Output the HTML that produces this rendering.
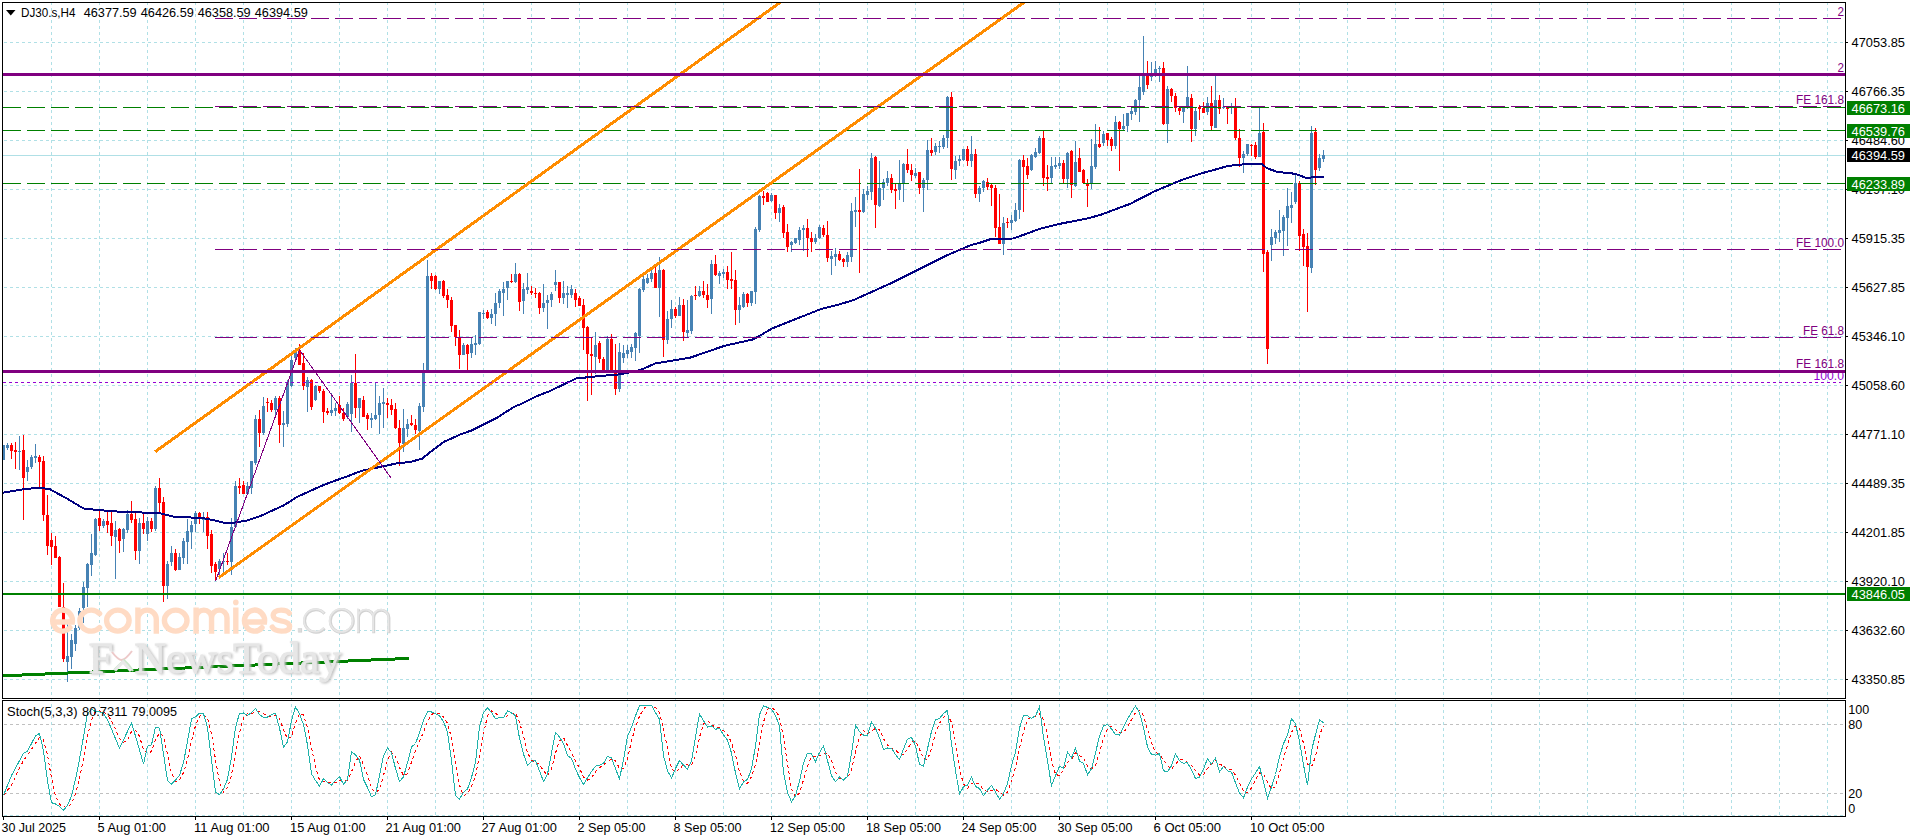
<!DOCTYPE html>
<html><head><meta charset="utf-8"><title>DJ30.s,H4</title>
<style>
html,body{margin:0;padding:0;background:#fff;}
body{width:1916px;height:840px;overflow:hidden;position:relative;font-family:"Liberation Sans",sans-serif;}
svg{position:absolute;left:0;top:0;display:block}
svg text{font-family:"Liberation Sans",sans-serif;font-size:13px;fill:#000;}
.wm{position:absolute;white-space:nowrap;line-height:1;}
</style></head><body>
<svg width="1916" height="840" viewBox="0 0 1916 840">
<rect x="0" y="0" width="1916" height="840" fill="#fff"/>
<g shape-rendering="crispEdges" fill="none">
<path d="M51.5 2V816M99.5 2V816M147.5 2V816M195.5 2V816M243.5 2V816M291.5 2V816M339.5 2V816M387.5 2V816M435.5 2V816M483.5 2V816M531.5 2V816M579.5 2V816M627.5 2V816M675.5 2V816M723.5 2V816M771.5 2V816M819.5 2V816M867.5 2V816M915.5 2V816M963.5 2V816M1011.5 2V816M1059.5 2V816M1107.5 2V816M1155.5 2V816M1203.5 2V816M1251.5 2V816M1299.5 2V816M1347.5 2V816M1395.5 2V816M1443.5 2V816M1491.5 2V816M1539.5 2V816M1587.5 2V816M1635.5 2V816M1683.5 2V816M1731.5 2V816M1779.5 2V816M1827.5 2V816" stroke="#B0E0E6" stroke-width="1" stroke-dasharray="3 3"/>
<path d="M4 42.5H1845M4 91.5H1845M4 140.5H1845M4 189.5H1845M4 238.5H1845M4 287.5H1845M4 336.5H1845M4 385.5H1845M4 434.5H1845M4 483.5H1845M4 532.5H1845M4 581.5H1845M4 630.5H1845M4 679.5H1845M4 815.5H1845" stroke="#B0E0E6" stroke-width="1" stroke-dasharray="3 3"/>
<path d="M4 724.5H1845M4 793.5H1845" stroke="#C0C0C0" stroke-width="1" stroke-dasharray="3 3"/>
</g>
<rect x="3" y="155" width="1842" height="1" fill="#B0E0E6" shape-rendering="crispEdges"/>
<g shape-rendering="crispEdges">
<path d="M3 445h1V460h-1zM2 445h3V460h-3zM7 443h1V450h-1zM6 445h3V448h-3zM19 436h1V470h-1zM18 451h3V452h-3zM27 460h1V481h-1zM26 467h3V472h-3zM31 455h1V469h-1zM30 457h3V467h-3zM35 444h1V463h-1zM34 456h3V458h-3zM67 620h1V682h-1zM66 656h3V662h-3zM71 634h1V669h-1zM70 640h3V657h-3zM75 625h1V651h-1zM74 628h3V644h-3zM79 608h1V630h-1zM78 611h3V628h-3zM83 582h1V623h-1zM82 587h3V608h-3zM87 563h1V607h-1zM86 564h3V588h-3zM91 534h1V576h-1zM90 553h3V565h-3zM95 518h1V556h-1zM94 519h3V555h-3zM103 519h1V528h-1zM102 521h3V526h-3zM115 521h1V579h-1zM114 530h3V537h-3zM123 528h1V552h-1zM122 529h3V539h-3zM127 510h1V533h-1zM126 514h3V530h-3zM139 518h1V564h-1zM138 523h3V551h-3zM147 517h1V541h-1zM146 521h3V534h-3zM155 486h1V531h-1zM154 488h3V529h-3zM167 561h1V599h-1zM166 564h3V586h-3zM171 546h1V566h-1zM170 553h3V562h-3zM179 553h1V570h-1zM178 557h3V570h-3zM183 538h1V564h-1zM182 541h3V558h-3zM187 519h1V564h-1zM186 531h3V542h-3zM191 521h1V549h-1zM190 525h3V532h-3zM195 511h1V532h-1zM194 513h3V524h-3zM203 512h1V532h-1zM202 519h3V520h-3zM219 559h1V576h-1zM218 561h3V569h-3zM223 553h1V572h-1zM222 561h3V562h-3zM231 518h1V575h-1zM230 527h3V562h-3zM235 481h1V528h-1zM234 486h3V527h-3zM247 482h1V494h-1zM246 486h3V494h-3zM251 461h1V494h-1zM250 461h3V488h-3zM255 415h1V465h-1zM254 419h3V463h-3zM263 397h1V435h-1zM262 406h3V433h-3zM275 396h1V415h-1zM274 398h3V410h-3zM283 411h1V447h-1zM282 423h3V425h-3zM287 380h1V427h-1zM286 382h3V424h-3zM291 355h1V387h-1zM290 360h3V386h-3zM295 348h1V361h-1zM294 352h3V358h-3zM307 377h1V412h-1zM306 380h3V387h-3zM315 385h1V401h-1zM314 386h3V400h-3zM331 393h1V416h-1zM330 410h3V413h-3zM335 403h1V416h-1zM334 408h3V411h-3zM347 402h1V419h-1zM346 404h3V417h-3zM351 375h1V432h-1zM350 383h3V414h-3zM359 398h1V423h-1zM358 398h3V408h-3zM371 413h1V428h-1zM370 418h3V420h-3zM375 383h1V420h-1zM374 415h3V419h-3zM379 396h1V434h-1zM378 403h3V415h-3zM383 388h1V428h-1zM382 402h3V404h-3zM403 409h1V452h-1zM402 428h3V444h-3zM407 419h1V437h-1zM406 424h3V429h-3zM419 403h1V450h-1zM418 406h3V431h-3zM423 363h1V412h-1zM422 373h3V407h-3zM427 260h1V370h-1zM426 276h3V370h-3zM439 281h1V294h-1zM438 281h3V289h-3zM463 343h1V355h-1zM462 345h3V355h-3zM471 338h1V358h-1zM470 344h3V353h-3zM475 335h1V355h-1zM474 343h3V345h-3zM479 312h1V345h-1zM478 312h3V344h-3zM483 310h1V319h-1zM482 313h3V314h-3zM491 309h1V324h-1zM490 314h3V318h-3zM495 293h1V326h-1zM494 303h3V314h-3zM499 289h1V308h-1zM498 291h3V303h-3zM503 282h1V316h-1zM502 289h3V293h-3zM507 281h1V300h-1zM506 281h3V288h-3zM515 263h1V283h-1zM514 274h3V282h-3zM523 283h1V314h-1zM522 289h3V301h-3zM527 273h1V294h-1zM526 287h3V290h-3zM543 284h1V312h-1zM542 303h3V308h-3zM547 295h1V329h-1zM546 300h3V303h-3zM551 292h1V307h-1zM550 294h3V300h-3zM555 270h1V291h-1zM554 282h3V285h-3zM563 281h1V304h-1zM562 293h3V298h-3zM567 286h1V308h-1zM566 293h3V295h-3zM571 285h1V298h-1zM570 289h3V295h-3zM595 332h1V374h-1zM594 345h3V357h-3zM607 336h1V371h-1zM606 339h3V371h-3zM619 343h1V392h-1zM618 352h3V389h-3zM623 345h1V363h-1zM622 353h3V358h-3zM627 345h1V358h-1zM626 350h3V354h-3zM631 344h1V358h-1zM630 347h3V352h-3zM635 332h1V361h-1zM634 333h3V348h-3zM639 288h1V353h-1zM638 289h3V336h-3zM643 275h1V292h-1zM642 279h3V290h-3zM647 274h1V284h-1zM646 278h3V283h-3zM651 268h1V282h-1zM650 273h3V279h-3zM659 257h1V317h-1zM658 270h3V288h-3zM667 311h1V344h-1zM666 319h3V340h-3zM671 300h1V328h-1zM670 309h3V319h-3zM679 297h1V316h-1zM678 305h3V316h-3zM687 300h1V338h-1zM686 330h3V333h-3zM691 295h1V334h-1zM690 296h3V331h-3zM699 286h1V297h-1zM698 291h3V296h-3zM711 260h1V314h-1zM710 264h3V299h-3zM719 271h1V284h-1zM718 273h3V276h-3zM723 269h1V278h-1zM722 272h3V274h-3zM739 297h1V323h-1zM738 305h3V310h-3zM743 292h1V308h-1zM742 294h3V307h-3zM751 291h1V306h-1zM750 291h3V303h-3zM755 227h1V304h-1zM754 229h3V292h-3zM759 195h1V232h-1zM758 196h3V230h-3zM771 193h1V202h-1zM770 195h3V201h-3zM779 204h1V222h-1zM778 208h3V213h-3zM791 241h1V252h-1zM790 242h3V245h-3zM795 238h1V244h-1zM794 238h3V243h-3zM799 227h1V245h-1zM798 230h3V240h-3zM803 225h1V251h-1zM802 228h3V230h-3zM815 234h1V244h-1zM814 238h3V242h-3zM819 225h1V239h-1zM818 227h3V238h-3zM831 251h1V275h-1zM830 256h3V259h-3zM835 248h1V266h-1zM834 254h3V257h-3zM847 252h1V267h-1zM846 255h3V262h-3zM851 203h1V262h-1zM850 211h3V257h-3zM855 197h1V227h-1zM854 210h3V212h-3zM863 189h1V213h-1zM862 194h3V212h-3zM867 186h1V200h-1zM866 191h3V195h-3zM871 153h1V200h-1zM870 158h3V192h-3zM879 161h1V207h-1zM878 188h3V206h-3zM883 179h1V200h-1zM882 182h3V188h-3zM887 171h1V186h-1zM886 178h3V183h-3zM899 160h1V200h-1zM898 183h3V190h-3zM903 163h1V202h-1zM902 164h3V184h-3zM915 168h1V178h-1zM914 173h3V176h-3zM923 178h1V212h-1zM922 180h3V188h-3zM927 140h1V190h-1zM926 150h3V180h-3zM935 143h1V155h-1zM934 146h3V152h-3zM939 141h1V153h-1zM938 146h3V147h-3zM943 135h1V149h-1zM942 138h3V147h-3zM947 96h1V148h-1zM946 97h3V138h-3zM955 156h1V179h-1zM954 161h3V170h-3zM959 155h1V166h-1zM958 159h3V161h-3zM963 149h1V161h-1zM962 149h3V160h-3zM971 136h1V167h-1zM970 154h3V161h-3zM979 186h1V202h-1zM978 188h3V194h-3zM983 180h1V192h-1zM982 181h3V188h-3zM1003 217h1V255h-1zM1002 223h3V244h-3zM1011 215h1V230h-1zM1010 220h3V223h-3zM1015 203h1V222h-1zM1014 210h3V221h-3zM1019 159h1V219h-1zM1018 160h3V210h-3zM1031 154h1V171h-1zM1030 155h3V170h-3zM1035 148h1V158h-1zM1034 152h3V157h-3zM1039 136h1V154h-1zM1038 138h3V153h-3zM1051 157h1V183h-1zM1050 166h3V178h-3zM1055 157h1V169h-1zM1054 165h3V167h-3zM1059 157h1V169h-1zM1058 163h3V166h-3zM1067 152h1V188h-1zM1066 153h3V179h-3zM1075 141h1V187h-1zM1074 162h3V186h-3zM1091 139h1V189h-1zM1090 166h3V184h-3zM1095 124h1V169h-1zM1094 144h3V167h-3zM1103 131h1V146h-1zM1102 134h3V143h-3zM1115 116h1V149h-1zM1114 122h3V146h-3zM1123 114h1V130h-1zM1122 126h3V129h-3zM1127 113h1V132h-1zM1126 113h3V126h-3zM1131 108h1V120h-1zM1130 111h3V114h-3zM1135 99h1V115h-1zM1134 100h3V112h-3zM1139 74h1V122h-1zM1138 87h3V100h-3zM1143 36h1V95h-1zM1142 74h3V92h-3zM1151 62h1V81h-1zM1150 74h3V77h-3zM1155 61h1V77h-1zM1154 69h3V73h-3zM1159 66h1V82h-1zM1158 68h3V69h-3zM1167 86h1V143h-1zM1166 89h3V124h-3zM1183 107h1V123h-1zM1182 107h3V112h-3zM1187 66h1V109h-1zM1186 97h3V108h-3zM1195 108h1V136h-1zM1194 111h3V129h-3zM1207 97h1V115h-1zM1206 103h3V112h-3zM1215 76h1V128h-1zM1214 100h3V128h-3zM1223 98h1V109h-1zM1222 107h3V108h-3zM1231 103h1V114h-1zM1230 107h3V108h-3zM1243 151h1V173h-1zM1242 154h3V158h-3zM1247 144h1V156h-1zM1246 144h3V154h-3zM1259 108h1V157h-1zM1258 133h3V157h-3zM1271 229h1V261h-1zM1270 237h3V245h-3zM1275 230h1V244h-1zM1274 232h3V238h-3zM1279 210h1V242h-1zM1278 230h3V233h-3zM1283 215h1V256h-1zM1282 217h3V231h-3zM1287 188h1V246h-1zM1286 206h3V218h-3zM1291 192h1V223h-1zM1290 205h3V208h-3zM1295 175h1V204h-1zM1294 183h3V202h-3zM1311 126h1V273h-1zM1310 133h3V268h-3zM1319 154h1V171h-1zM1318 158h3V168h-3zM1323 150h1V162h-1zM1322 155h3V159h-3z" fill="#4682B4"/>
<path d="M11 443h1V459h-1zM10 445h3V451h-3zM15 442h1V469h-1zM14 450h3V452h-3zM23 435h1V520h-1zM22 450h3V478h-3zM39 455h1V489h-1zM38 457h3V462h-3zM43 456h1V521h-1zM42 461h3V515h-3zM47 495h1V555h-1zM46 515h3V546h-3zM51 533h1V565h-1zM50 540h3V547h-3zM55 536h1V558h-1zM54 546h3V558h-3zM59 556h1V607h-1zM58 557h3V607h-3zM63 583h1V662h-1zM62 607h3V659h-3zM99 510h1V531h-1zM98 518h3V526h-3zM107 512h1V533h-1zM106 521h3V525h-3zM111 512h1V546h-1zM110 523h3V536h-3zM119 528h1V553h-1zM118 529h3V541h-3zM131 501h1V523h-1zM130 514h3V520h-3zM135 512h1V560h-1zM134 519h3V551h-3zM143 514h1V534h-1zM142 523h3V529h-3zM151 518h1V532h-1zM150 521h3V529h-3zM159 478h1V512h-1zM158 488h3V503h-3zM163 497h1V602h-1zM162 502h3V586h-3zM175 549h1V571h-1zM174 553h3V570h-3zM199 512h1V524h-1zM198 513h3V519h-3zM207 512h1V549h-1zM206 517h3V536h-3zM211 530h1V573h-1zM210 534h3V566h-3zM215 562h1V581h-1zM214 564h3V572h-3zM227 553h1V565h-1zM226 561h3V562h-3zM239 478h1V494h-1zM238 486h3V488h-3zM243 481h1V494h-1zM242 485h3V494h-3zM259 410h1V447h-1zM258 419h3V433h-3zM267 398h1V412h-1zM266 402h3V403h-3zM271 400h1V412h-1zM270 403h3V410h-3zM279 396h1V443h-1zM278 398h3V425h-3zM299 344h1V365h-1zM298 350h3V365h-3zM303 353h1V390h-1zM302 363h3V386h-3zM311 379h1V410h-1zM310 380h3V407h-3zM319 386h1V393h-1zM318 386h3V391h-3zM323 389h1V423h-1zM322 391h3V412h-3zM327 408h1V415h-1zM326 411h3V413h-3zM339 396h1V414h-1zM338 405h3V413h-3zM343 408h1V421h-1zM342 413h3V419h-3zM355 354h1V418h-1zM354 383h3V408h-3zM363 396h1V417h-1zM362 400h3V417h-3zM367 413h1V430h-1zM366 415h3V419h-3zM387 398h1V418h-1zM386 403h3V405h-3zM391 399h1V415h-1zM390 405h3V410h-3zM395 403h1V429h-1zM394 409h3V428h-3zM399 420h1V466h-1zM398 428h3V443h-3zM411 415h1V426h-1zM410 423h3V425h-3zM415 419h1V434h-1zM414 425h3V430h-3zM431 273h1V289h-1zM430 276h3V281h-3zM435 275h1V290h-1zM434 276h3V289h-3zM443 280h1V298h-1zM442 281h3V296h-3zM447 289h1V308h-1zM446 295h3V300h-3zM451 297h1V332h-1zM450 300h3V326h-3zM455 325h1V346h-1zM454 325h3V337h-3zM459 330h1V369h-1zM458 337h3V355h-3zM467 344h1V370h-1zM466 345h3V354h-3zM487 310h1V319h-1zM486 312h3V318h-3zM511 274h1V283h-1zM510 281h3V282h-3zM519 273h1V311h-1zM518 274h3V302h-3zM531 286h1V295h-1zM530 291h3V293h-3zM535 288h1V298h-1zM534 293h3V294h-3zM539 292h1V314h-1zM538 293h3V308h-3zM559 282h1V303h-1zM558 282h3V298h-3zM575 289h1V307h-1zM574 293h3V300h-3zM579 296h1V306h-1zM578 298h3V306h-3zM583 299h1V350h-1zM582 305h3V328h-3zM587 326h1V401h-1zM586 327h3V354h-3zM591 338h1V395h-1zM590 354h3V356h-3zM599 341h1V363h-1zM598 343h3V359h-3zM603 357h1V371h-1zM602 359h3V371h-3zM611 334h1V371h-1zM610 339h3V371h-3zM615 344h1V395h-1zM614 371h3V389h-3zM655 266h1V288h-1zM654 273h3V288h-3zM663 269h1V357h-1zM662 270h3V340h-3zM675 307h1V318h-1zM674 309h3V316h-3zM683 299h1V341h-1zM682 305h3V332h-3zM695 286h1V300h-1zM694 295h3V296h-3zM703 281h1V298h-1zM702 291h3V295h-3zM707 284h1V308h-1zM706 295h3V300h-3zM715 255h1V276h-1zM714 264h3V275h-3zM727 266h1V289h-1zM726 272h3V280h-3zM731 252h1V289h-1zM730 279h3V281h-3zM735 270h1V325h-1zM734 280h3V310h-3zM747 293h1V307h-1zM746 294h3V303h-3zM763 191h1V205h-1zM762 196h3V198h-3zM767 192h1V202h-1zM766 193h3V202h-3zM775 195h1V219h-1zM774 195h3V213h-3zM783 205h1V238h-1zM782 207h3V233h-3zM787 224h1V252h-1zM786 232h3V247h-3zM807 219h1V257h-1zM806 228h3V238h-3zM811 232h1V252h-1zM810 238h3V242h-3zM823 225h1V237h-1zM822 228h3V235h-3zM827 221h1V262h-1zM826 235h3V258h-3zM839 251h1V261h-1zM838 254h3V260h-3zM843 258h1V267h-1zM842 259h3V262h-3zM859 169h1V273h-1zM858 210h3V212h-3zM875 156h1V228h-1zM874 157h3V205h-3zM891 174h1V193h-1zM890 178h3V190h-3zM895 184h1V209h-1zM894 189h3V191h-3zM907 149h1V173h-1zM906 164h3V170h-3zM911 164h1V181h-1zM910 170h3V175h-3zM919 172h1V194h-1zM918 172h3V188h-3zM931 138h1V156h-1zM930 150h3V153h-3zM951 92h1V180h-1zM950 97h3V169h-3zM967 146h1V166h-1zM966 149h3V161h-3zM975 149h1V198h-1zM974 154h3V194h-3zM987 178h1V190h-1zM986 182h3V187h-3zM991 184h1V206h-1zM990 185h3V188h-3zM995 185h1V237h-1zM994 188h3V228h-3zM999 194h1V244h-1zM998 227h3V244h-3zM1007 218h1V228h-1zM1006 222h3V223h-3zM1023 155h1V212h-1zM1022 160h3V167h-3zM1027 158h1V179h-1zM1026 166h3V175h-3zM1043 131h1V186h-1zM1042 138h3V178h-3zM1047 165h1V191h-1zM1046 177h3V179h-3zM1063 160h1V183h-1zM1062 163h3V179h-3zM1071 150h1V198h-1zM1070 151h3V185h-3zM1079 148h1V172h-1zM1078 158h3V172h-3zM1083 169h1V184h-1zM1082 170h3V183h-3zM1087 179h1V207h-1zM1086 183h3V186h-3zM1099 127h1V148h-1zM1098 144h3V147h-3zM1107 133h1V146h-1zM1106 133h3V140h-3zM1111 137h1V151h-1zM1110 139h3V146h-3zM1119 121h1V171h-1zM1118 122h3V129h-3zM1147 61h1V89h-1zM1146 75h3V85h-3zM1163 62h1V125h-1zM1162 68h3V124h-3zM1171 88h1V102h-1zM1170 89h3V96h-3zM1175 93h1V112h-1zM1174 96h3V108h-3zM1179 106h1V115h-1zM1178 108h3V111h-3zM1191 94h1V142h-1zM1190 98h3V129h-3zM1199 105h1V120h-1zM1198 107h3V109h-3zM1203 102h1V113h-1zM1202 108h3V113h-3zM1211 86h1V130h-1zM1210 103h3V126h-3zM1219 95h1V114h-1zM1218 100h3V109h-3zM1227 107h1V124h-1zM1226 107h3V109h-3zM1235 98h1V140h-1zM1234 108h3V138h-3zM1239 129h1V167h-1zM1238 138h3V158h-3zM1251 144h1V156h-1zM1250 145h3V146h-3zM1255 142h1V159h-1zM1254 145h3V157h-3zM1263 123h1V272h-1zM1262 132h3V254h-3zM1267 250h1V364h-1zM1266 252h3V349h-3zM1299 181h1V251h-1zM1298 183h3V236h-3zM1303 229h1V266h-1zM1302 234h3V247h-3zM1307 233h1V312h-1zM1306 246h3V267h-3zM1315 128h1V185h-1zM1314 132h3V170h-3z" fill="#FF0000"/>
</g>
<path d="M3.3 492.6 L23.4 489.3 L40.0 487.6 L50.0 489.3 L66.8 498.5 L83.5 508.5 L100.0 510.2 L117.0 511.5 L147.0 512.7 L160.0 513.2 L175.4 517.2 L200.4 517.7 L213.8 520.2 L223.8 522.7 L233.8 522.7 L247.2 520.5 L260.5 516.0 L284.0 505.2 L297.3 496.8 L320.0 486.5 L330.0 482.5 L349.0 475.7 L361.0 471.0 L380.0 467.0 L397.0 463.3 L410.0 462.0 L422.0 458.8 L430.4 451.9 L443.8 441.9 L460.5 434.4 L472.2 430.2 L497.2 417.7 L514.0 406.8 L520.0 404.4 L537.3 396.0 L550.0 391.0 L576.0 378.5 L600.0 376.0 L620.2 374.3 L640.3 370.0 L655.3 363.5 L690.4 357.6 L723.8 346.0 L753.8 339.2 L772.2 328.4 L820.6 309.2 L840.0 304.2 L853.7 300.0 L892.0 282.8 L915.4 271.0 L947.2 255.2 L970.6 245.2 L980.0 242.7 L991.7 238.8 L1013.4 238.5 L1040.0 228.8 L1060.0 223.8 L1087.0 218.5 L1100.0 215.0 L1130.3 203.8 L1155.4 190.9 L1180.4 180.5 L1200.0 173.8 L1228.4 165.9 L1248.5 163.8 L1261.8 163.8 L1266.8 168.1 L1276.9 171.8 L1295.2 173.8 L1306.9 178.1 L1313.6 177.1 L1323.6 177.1" fill="none" stroke="#000080" stroke-width="2" stroke-linejoin="round" shape-rendering="crispEdges"/>
<clipPath id="mc"><rect x="3" y="3" width="1842" height="695"/></clipPath>
<g shape-rendering="crispEdges" fill="none" clip-path="url(#mc)">
<path d="M3 675.8L409 658.4" stroke="#008000" stroke-width="3"/>
<rect x="3" y="593" width="1842" height="2" fill="#008000"/>
<path d="M3 107.5H1845" stroke="#008000" stroke-width="1" stroke-dasharray="18 6"/>
<path d="M3 130.5H1845" stroke="#008000" stroke-width="1" stroke-dasharray="18 6"/>
<path d="M3 183.5H1845" stroke="#008000" stroke-width="1" stroke-dasharray="18 6"/>
<path d="M155.1 451.8L781.2 1.6" stroke="#FF8C00" stroke-width="3"/>
<path d="M218.8 577.6L1024.5 2" stroke="#FF8C00" stroke-width="3"/>
<path d="M215 18.5H1841" stroke="#800080" stroke-width="1" stroke-dasharray="18 6"/>
<path d="M215 106.5H1841" stroke="#800080" stroke-width="1" stroke-dasharray="18 6"/>
<path d="M215 249.5H1841" stroke="#800080" stroke-width="1" stroke-dasharray="18 6"/>
<path d="M215 337.5H1841" stroke="#800080" stroke-width="1" stroke-dasharray="18 6"/>
<path d="M3 382.5H1841" stroke="#9400D3" stroke-width="1" stroke-dasharray="3 3"/>
<path d="M215.5 581.5L299.5 350L391 478" stroke="#800080" stroke-width="1"/>
</g>
<path d="M3.5 795.2 L7.5 790.3 L11.5 785.4 L15.5 776.4 L19.5 768.1 L23.5 760.7 L27.5 755.0 L31.5 749.3 L35.5 743.4 L39.5 737.6 L43.5 740.0 L47.5 755.1 L51.5 778.1 L55.5 795.9 L59.5 804.3 L63.5 806.8 L67.5 807.3 L71.5 803.9 L75.5 793.5 L79.5 778.2 L83.5 758.4 L87.5 736.5 L91.5 719.8 L95.5 711.5 L99.5 710.9 L103.5 712.2 L107.5 714.9 L111.5 720.7 L115.5 729.2 L119.5 738.7 L123.5 742.3 L127.5 739.9 L131.5 731.4 L135.5 730.1 L139.5 736.3 L143.5 750.0 L147.5 753.3 L151.5 751.6 L155.5 739.3 L159.5 733.3 L163.5 736.4 L167.5 754.2 L171.5 773.0 L175.5 781.6 L179.5 779.9 L183.5 772.6 L187.5 759.7 L191.5 740.9 L195.5 725.6 L199.5 716.3 L203.5 714.6 L207.5 718.1 L211.5 733.5 L215.5 759.7 L219.5 782.1 L223.5 791.9 L227.5 787.7 L231.5 775.1 L235.5 754.6 L239.5 732.6 L243.5 717.9 L247.5 713.8 L251.5 713.6 L255.5 712.1 L259.5 711.9 L263.5 713.4 L267.5 716.3 L271.5 716.3 L275.5 715.0 L279.5 718.7 L283.5 729.6 L287.5 739.1 L291.5 736.6 L295.5 723.1 L299.5 713.7 L303.5 715.0 L307.5 727.8 L311.5 747.8 L315.5 766.4 L319.5 780.2 L323.5 781.8 L327.5 782.5 L331.5 782.1 L335.5 782.6 L339.5 780.6 L343.5 780.3 L347.5 780.1 L351.5 771.8 L355.5 762.0 L359.5 755.5 L363.5 764.7 L367.5 775.6 L371.5 787.9 L375.5 792.9 L379.5 789.1 L383.5 775.5 L387.5 760.0 L391.5 752.2 L395.5 756.3 L399.5 767.4 L403.5 775.5 L407.5 773.6 L411.5 762.2 L415.5 751.0 L419.5 741.1 L423.5 732.2 L427.5 721.6 L431.5 714.6 L435.5 712.4 L439.5 713.8 L443.5 717.0 L447.5 723.2 L451.5 738.1 L455.5 762.8 L459.5 785.2 L463.5 795.7 L467.5 793.5 L471.5 786.2 L475.5 776.3 L479.5 755.6 L483.5 734.0 L487.5 715.8 L491.5 711.0 L495.5 713.1 L499.5 716.3 L503.5 718.2 L507.5 715.5 L511.5 713.9 L515.5 713.1 L519.5 722.3 L523.5 736.0 L527.5 752.6 L531.5 760.3 L535.5 762.5 L539.5 764.3 L543.5 770.9 L547.5 775.5 L551.5 769.5 L555.5 753.2 L559.5 740.7 L563.5 737.6 L567.5 745.4 L571.5 752.5 L575.5 760.9 L579.5 768.3 L583.5 777.0 L587.5 780.0 L591.5 778.0 L595.5 771.8 L599.5 767.6 L603.5 764.9 L607.5 761.7 L611.5 759.2 L615.5 760.9 L619.5 768.4 L623.5 769.0 L627.5 758.3 L631.5 741.1 L635.5 726.5 L639.5 716.3 L643.5 709.0 L647.5 705.6 L651.5 705.4 L655.5 707.7 L659.5 712.5 L663.5 729.2 L667.5 748.6 L671.5 768.1 L675.5 772.4 L679.5 769.0 L683.5 764.7 L687.5 765.0 L691.5 765.2 L695.5 755.8 L699.5 737.3 L703.5 723.9 L707.5 720.6 L711.5 724.6 L715.5 727.4 L719.5 727.8 L723.5 730.8 L727.5 734.4 L731.5 742.7 L735.5 755.3 L739.5 771.6 L743.5 781.3 L747.5 783.5 L751.5 776.8 L755.5 764.8 L759.5 743.2 L763.5 722.1 L767.5 709.3 L771.5 707.4 L775.5 710.7 L779.5 716.9 L783.5 738.1 L787.5 763.7 L791.5 789.0 L795.5 796.7 L799.5 792.9 L803.5 779.9 L807.5 765.8 L811.5 756.6 L815.5 756.2 L819.5 755.9 L823.5 753.3 L827.5 753.0 L831.5 760.7 L835.5 772.6 L839.5 778.1 L843.5 779.5 L847.5 777.7 L851.5 769.8 L855.5 751.6 L859.5 736.7 L863.5 730.6 L867.5 734.1 L871.5 730.8 L875.5 728.5 L879.5 729.3 L883.5 738.6 L887.5 745.1 L891.5 748.6 L895.5 750.2 L899.5 754.1 L903.5 754.4 L907.5 749.3 L911.5 741.9 L915.5 740.8 L919.5 749.2 L923.5 758.7 L927.5 759.7 L931.5 748.7 L935.5 733.4 L939.5 723.2 L943.5 717.3 L947.5 714.1 L951.5 722.6 L955.5 741.5 L959.5 769.5 L963.5 783.8 L967.5 788.6 L971.5 783.0 L975.5 783.0 L979.5 784.1 L983.5 790.2 L987.5 791.4 L991.5 790.4 L995.5 789.2 L999.5 792.2 L1003.5 794.9 L1007.5 792.2 L1011.5 780.9 L1015.5 767.0 L1019.5 748.5 L1023.5 731.9 L1027.5 719.9 L1031.5 716.6 L1035.5 716.7 L1039.5 713.6 L1043.5 720.0 L1047.5 735.0 L1051.5 761.3 L1055.5 774.1 L1059.5 775.9 L1063.5 770.1 L1067.5 762.3 L1071.5 759.5 L1075.5 752.7 L1079.5 755.7 L1083.5 757.5 L1087.5 766.4 L1091.5 769.0 L1095.5 765.5 L1099.5 752.6 L1103.5 738.3 L1107.5 728.8 L1111.5 726.4 L1115.5 729.3 L1119.5 732.9 L1123.5 732.4 L1127.5 727.2 L1131.5 719.6 L1135.5 712.5 L1139.5 710.4 L1143.5 715.5 L1147.5 729.1 L1151.5 743.1 L1155.5 752.1 L1159.5 754.4 L1163.5 759.9 L1167.5 765.3 L1171.5 769.4 L1175.5 763.8 L1179.5 760.2 L1183.5 759.3 L1187.5 762.3 L1191.5 765.4 L1195.5 770.4 L1199.5 775.2 L1203.5 774.8 L1207.5 768.3 L1211.5 763.9 L1215.5 760.3 L1219.5 764.6 L1223.5 765.4 L1227.5 769.6 L1231.5 769.7 L1235.5 775.2 L1239.5 782.6 L1243.5 791.2 L1247.5 792.7 L1251.5 788.1 L1255.5 779.8 L1259.5 772.9 L1263.5 773.9 L1267.5 782.3 L1271.5 789.1 L1275.5 786.6 L1279.5 772.7 L1283.5 758.3 L1287.5 745.1 L1291.5 732.4 L1295.5 725.8 L1299.5 727.9 L1303.5 743.4 L1307.5 763.9 L1311.5 766.9 L1315.5 756.8 L1319.5 735.1 L1323.5 725.7" fill="none" stroke="#FF0000" stroke-width="1" stroke-dasharray="3 3" shape-rendering="crispEdges"/>
<path d="M3.5 795.2 L7.5 785.4 L11.5 775.6 L15.5 768.1 L19.5 760.7 L23.5 753.4 L27.5 751.0 L31.5 743.5 L35.5 735.9 L39.5 733.5 L43.5 750.7 L47.5 781.1 L51.5 802.7 L55.5 804.0 L59.5 806.3 L63.5 810.2 L67.5 805.4 L71.5 796.0 L75.5 779.2 L79.5 759.3 L83.5 736.8 L87.5 713.5 L91.5 709.2 L95.5 711.7 L99.5 711.7 L103.5 713.4 L107.5 719.7 L111.5 729.1 L115.5 738.7 L119.5 748.2 L123.5 740.0 L127.5 731.4 L131.5 722.8 L135.5 736.1 L139.5 750.0 L143.5 763.9 L147.5 746.1 L151.5 744.8 L155.5 727.1 L159.5 728.1 L163.5 754.0 L167.5 780.6 L171.5 784.2 L175.5 780.0 L179.5 775.4 L183.5 762.5 L187.5 741.3 L191.5 718.9 L195.5 716.8 L199.5 713.3 L203.5 713.7 L207.5 727.4 L211.5 759.5 L215.5 792.1 L219.5 794.7 L223.5 789.0 L227.5 779.3 L231.5 757.0 L235.5 727.5 L239.5 713.3 L243.5 713.0 L247.5 715.2 L251.5 712.8 L255.5 708.4 L259.5 714.5 L263.5 717.3 L267.5 717.1 L271.5 714.5 L275.5 713.4 L279.5 728.1 L283.5 747.2 L287.5 741.9 L291.5 720.6 L295.5 706.8 L299.5 713.8 L303.5 724.6 L307.5 745.0 L311.5 773.8 L315.5 780.5 L319.5 786.2 L323.5 778.6 L327.5 782.6 L331.5 785.0 L335.5 780.3 L339.5 776.6 L343.5 784.2 L347.5 779.5 L351.5 751.7 L355.5 754.7 L359.5 760.0 L363.5 779.5 L367.5 787.4 L371.5 796.9 L375.5 794.5 L379.5 776.0 L383.5 756.0 L387.5 748.0 L391.5 752.6 L395.5 768.4 L399.5 781.4 L403.5 776.9 L407.5 762.6 L411.5 747.0 L415.5 743.5 L419.5 732.8 L423.5 720.3 L427.5 711.6 L431.5 712.0 L435.5 713.7 L439.5 715.8 L443.5 721.5 L447.5 732.2 L451.5 760.7 L455.5 795.5 L459.5 799.3 L463.5 792.2 L467.5 789.0 L471.5 777.4 L475.5 762.6 L479.5 727.0 L483.5 712.4 L487.5 708.1 L491.5 712.3 L495.5 718.8 L499.5 717.7 L503.5 718.0 L507.5 710.9 L511.5 712.9 L515.5 715.7 L519.5 738.3 L523.5 754.0 L527.5 765.6 L531.5 761.4 L535.5 760.5 L539.5 770.9 L543.5 781.3 L547.5 774.3 L551.5 753.0 L555.5 732.3 L559.5 736.9 L563.5 743.6 L567.5 755.6 L571.5 758.3 L575.5 769.0 L579.5 777.6 L583.5 784.5 L587.5 777.7 L591.5 771.6 L595.5 766.1 L599.5 765.2 L603.5 763.4 L607.5 756.4 L611.5 757.8 L615.5 768.6 L619.5 778.8 L623.5 759.6 L627.5 736.4 L631.5 727.2 L635.5 715.7 L639.5 706.0 L643.5 705.4 L647.5 705.4 L651.5 705.4 L655.5 712.5 L659.5 719.5 L663.5 755.6 L667.5 770.8 L671.5 778.0 L675.5 768.5 L679.5 760.5 L683.5 765.1 L687.5 769.3 L691.5 761.0 L695.5 736.9 L699.5 713.9 L703.5 720.8 L707.5 727.0 L711.5 725.9 L715.5 729.2 L719.5 728.4 L723.5 734.9 L727.5 740.0 L731.5 753.1 L735.5 772.9 L739.5 788.9 L743.5 782.1 L747.5 779.4 L751.5 768.9 L755.5 746.0 L759.5 714.7 L763.5 705.7 L767.5 707.4 L771.5 709.1 L775.5 715.5 L779.5 726.2 L783.5 772.6 L787.5 792.5 L791.5 801.9 L795.5 795.6 L799.5 781.1 L803.5 763.0 L807.5 753.2 L811.5 753.7 L815.5 761.6 L819.5 752.5 L823.5 745.9 L827.5 760.5 L831.5 775.7 L835.5 781.7 L839.5 777.0 L843.5 779.9 L847.5 776.4 L851.5 753.2 L855.5 725.2 L859.5 731.6 L863.5 735.1 L867.5 735.4 L871.5 721.9 L875.5 728.3 L879.5 737.8 L883.5 749.7 L887.5 748.0 L891.5 748.1 L895.5 754.6 L899.5 759.6 L903.5 749.0 L907.5 739.2 L911.5 737.4 L915.5 745.7 L919.5 764.4 L923.5 766.0 L927.5 748.8 L931.5 731.4 L935.5 720.0 L939.5 718.3 L943.5 713.6 L947.5 710.3 L951.5 743.8 L955.5 770.5 L959.5 794.3 L963.5 786.5 L967.5 785.1 L971.5 777.2 L975.5 786.5 L979.5 788.5 L983.5 795.5 L987.5 790.2 L991.5 785.5 L995.5 791.8 L999.5 799.3 L1003.5 793.6 L1007.5 783.7 L1011.5 765.4 L1015.5 752.0 L1019.5 728.1 L1023.5 715.7 L1027.5 715.9 L1031.5 718.3 L1035.5 715.9 L1039.5 706.7 L1043.5 737.4 L1047.5 761.0 L1051.5 785.6 L1055.5 775.6 L1059.5 766.4 L1063.5 768.4 L1067.5 752.2 L1071.5 757.8 L1075.5 748.1 L1079.5 761.1 L1083.5 763.4 L1087.5 774.8 L1091.5 768.9 L1095.5 752.8 L1099.5 736.1 L1103.5 726.0 L1107.5 724.3 L1111.5 728.9 L1115.5 734.7 L1119.5 735.1 L1123.5 727.4 L1127.5 719.0 L1131.5 712.5 L1135.5 705.9 L1139.5 712.7 L1143.5 727.9 L1147.5 746.8 L1151.5 754.5 L1155.5 755.1 L1159.5 753.6 L1163.5 770.8 L1167.5 771.6 L1171.5 765.8 L1175.5 753.9 L1179.5 760.9 L1183.5 763.3 L1187.5 762.7 L1191.5 770.1 L1195.5 778.4 L1199.5 777.1 L1203.5 768.9 L1207.5 758.9 L1211.5 764.0 L1215.5 758.0 L1219.5 771.9 L1223.5 766.3 L1227.5 770.7 L1231.5 772.1 L1235.5 782.8 L1239.5 792.9 L1243.5 797.9 L1247.5 787.3 L1251.5 779.1 L1255.5 773.1 L1259.5 766.5 L1263.5 782.2 L1267.5 798.2 L1271.5 787.1 L1275.5 774.5 L1279.5 756.7 L1283.5 743.7 L1287.5 735.1 L1291.5 718.5 L1295.5 723.7 L1299.5 741.6 L1303.5 764.9 L1307.5 785.2 L1311.5 750.7 L1315.5 734.5 L1319.5 720.0 L1323.5 722.6" fill="none" stroke="#20B2AA" stroke-width="1" shape-rendering="crispEdges"/>
<text x="1844" y="380" textLength="30.5" lengthAdjust="spacingAndGlyphs" text-anchor="end" style="fill:#9400D3">100.0</text>
<rect x="3" y="73" width="1842" height="3" fill="#800080" shape-rendering="crispEdges"/>
<rect x="3" y="370" width="1842" height="3" fill="#800080" shape-rendering="crispEdges"/>
<text x="1844" y="16" textLength="6.5" lengthAdjust="spacingAndGlyphs" text-anchor="end" style="fill:#800080">2</text>
<text x="1844" y="72" textLength="6.5" lengthAdjust="spacingAndGlyphs" text-anchor="end" style="fill:#800080">2</text>
<text x="1844" y="104" textLength="48" lengthAdjust="spacingAndGlyphs" text-anchor="end" style="fill:#800080">FE 161.8</text>
<text x="1844" y="247" textLength="48" lengthAdjust="spacingAndGlyphs" text-anchor="end" style="fill:#800080">FE 100.0</text>
<text x="1844" y="335" textLength="41" lengthAdjust="spacingAndGlyphs" text-anchor="end" style="fill:#800080">FE 61.8</text>
<text x="1844" y="368" textLength="48" lengthAdjust="spacingAndGlyphs" text-anchor="end" style="fill:#800080">FE 161.8</text>
<g shape-rendering="crispEdges" fill="#000">
<rect x="2" y="2" width="1844" height="1"/>
<rect x="2" y="2" width="1" height="697"/>
<rect x="2" y="698" width="1844" height="1"/>
<rect x="2" y="700" width="1844" height="1"/>
<rect x="2" y="700" width="1" height="117"/>
<rect x="2" y="816" width="1844" height="1"/>
<rect x="1845" y="2" width="1" height="697"/>
<rect x="1845" y="700" width="1" height="117"/>
<rect x="1846" y="42" width="2" height="1"/>
<rect x="1846" y="91" width="2" height="1"/>
<rect x="1846" y="140" width="2" height="1"/>
<rect x="1846" y="189" width="2" height="1"/>
<rect x="1846" y="238" width="2" height="1"/>
<rect x="1846" y="287" width="2" height="1"/>
<rect x="1846" y="336" width="2" height="1"/>
<rect x="1846" y="385" width="2" height="1"/>
<rect x="1846" y="434" width="2" height="1"/>
<rect x="1846" y="483" width="2" height="1"/>
<rect x="1846" y="532" width="2" height="1"/>
<rect x="1846" y="581" width="2" height="1"/>
<rect x="1846" y="630" width="2" height="1"/>
<rect x="1846" y="679" width="2" height="1"/>
<rect x="3" y="817" width="1" height="3"/>
<rect x="99" y="817" width="1" height="3"/>
<rect x="195" y="817" width="1" height="3"/>
<rect x="291" y="817" width="1" height="3"/>
<rect x="387" y="817" width="1" height="3"/>
<rect x="483" y="817" width="1" height="3"/>
<rect x="579" y="817" width="1" height="3"/>
<rect x="675" y="817" width="1" height="3"/>
<rect x="771" y="817" width="1" height="3"/>
<rect x="867" y="817" width="1" height="3"/>
<rect x="963" y="817" width="1" height="3"/>
<rect x="1059" y="817" width="1" height="3"/>
<rect x="1155" y="817" width="1" height="3"/>
<rect x="1251" y="817" width="1" height="3"/>
</g>
<text x="1851.5" y="47" textLength="53.5" lengthAdjust="spacingAndGlyphs">47053.85</text>
<text x="1851.5" y="96" textLength="53.5" lengthAdjust="spacingAndGlyphs">46766.35</text>
<text x="1851.5" y="145" textLength="53.5" lengthAdjust="spacingAndGlyphs">46484.60</text>
<text x="1851.5" y="194" textLength="53.5" lengthAdjust="spacingAndGlyphs">46197.10</text>
<text x="1851.5" y="243" textLength="53.5" lengthAdjust="spacingAndGlyphs">45915.35</text>
<text x="1851.5" y="292" textLength="53.5" lengthAdjust="spacingAndGlyphs">45627.85</text>
<text x="1851.5" y="341" textLength="53.5" lengthAdjust="spacingAndGlyphs">45346.10</text>
<text x="1851.5" y="390" textLength="53.5" lengthAdjust="spacingAndGlyphs">45058.60</text>
<text x="1851.5" y="439" textLength="53.5" lengthAdjust="spacingAndGlyphs">44771.10</text>
<text x="1851.5" y="488" textLength="53.5" lengthAdjust="spacingAndGlyphs">44489.35</text>
<text x="1851.5" y="537" textLength="53.5" lengthAdjust="spacingAndGlyphs">44201.85</text>
<text x="1851.5" y="586" textLength="53.5" lengthAdjust="spacingAndGlyphs">43920.10</text>
<text x="1851.5" y="635" textLength="53.5" lengthAdjust="spacingAndGlyphs">43632.60</text>
<text x="1851.5" y="684" textLength="53.5" lengthAdjust="spacingAndGlyphs">43350.85</text>
<rect x="1847" y="101" width="63" height="14" fill="#008000" shape-rendering="crispEdges"/>
<text x="1851.5" y="113" textLength="53.5" lengthAdjust="spacingAndGlyphs" style="fill:#fff">46673.16</text>
<rect x="1847" y="124" width="63" height="14" fill="#008000" shape-rendering="crispEdges"/>
<text x="1851.5" y="136" textLength="53.5" lengthAdjust="spacingAndGlyphs" style="fill:#fff">46539.76</text>
<rect x="1847" y="148" width="63" height="14" fill="#000" shape-rendering="crispEdges"/>
<text x="1851.5" y="160" textLength="53.5" lengthAdjust="spacingAndGlyphs" style="fill:#fff">46394.59</text>
<rect x="1847" y="177" width="63" height="14" fill="#008000" shape-rendering="crispEdges"/>
<text x="1851.5" y="189" textLength="53.5" lengthAdjust="spacingAndGlyphs" style="fill:#fff">46233.89</text>
<rect x="1847" y="587" width="63" height="14" fill="#008000" shape-rendering="crispEdges"/>
<text x="1851.5" y="599" textLength="53.5" lengthAdjust="spacingAndGlyphs" style="fill:#fff">43846.05</text>
<text x="1848.2" y="714" textLength="21" lengthAdjust="spacingAndGlyphs">100</text>
<text x="1848.2" y="729" textLength="14" lengthAdjust="spacingAndGlyphs">80</text>
<text x="1848.2" y="798" textLength="14" lengthAdjust="spacingAndGlyphs">20</text>
<text x="1848.2" y="813" textLength="7" lengthAdjust="spacingAndGlyphs">0</text>
<path d="M6 10h9.5l-4.75 5.5z" fill="#000"/>
<text x="21" y="17" textLength="54.5" lengthAdjust="spacingAndGlyphs">DJ30.s,H4</text>
<text x="83.7" y="17" textLength="53" lengthAdjust="spacingAndGlyphs">46377.59</text>
<text x="140.8" y="17" textLength="53" lengthAdjust="spacingAndGlyphs">46426.59</text>
<text x="197.7" y="17" textLength="53" lengthAdjust="spacingAndGlyphs">46358.59</text>
<text x="254.8" y="17" textLength="53" lengthAdjust="spacingAndGlyphs">46394.59</text>
<text x="7" y="716" textLength="70.5" lengthAdjust="spacingAndGlyphs">Stoch(5,3,3)</text>
<text x="82" y="716" textLength="45.5" lengthAdjust="spacingAndGlyphs">80.7311</text>
<text x="131.5" y="716" textLength="45.5" lengthAdjust="spacingAndGlyphs">79.0095</text>
<text x="1.5" y="832" textLength="64.5" lengthAdjust="spacingAndGlyphs">30 Jul 2025</text>
<text x="97.5" y="832" textLength="68.5" lengthAdjust="spacingAndGlyphs">5 Aug 01:00</text>
<text x="194.1" y="832" textLength="75.5" lengthAdjust="spacingAndGlyphs">11 Aug 01:00</text>
<text x="290.1" y="832" textLength="75.5" lengthAdjust="spacingAndGlyphs">15 Aug 01:00</text>
<text x="385.5" y="832" textLength="75.5" lengthAdjust="spacingAndGlyphs">21 Aug 01:00</text>
<text x="481.5" y="832" textLength="75.5" lengthAdjust="spacingAndGlyphs">27 Aug 01:00</text>
<text x="577.5" y="832" textLength="68" lengthAdjust="spacingAndGlyphs">2 Sep 05:00</text>
<text x="673.5" y="832" textLength="68" lengthAdjust="spacingAndGlyphs">8 Sep 05:00</text>
<text x="770.1" y="832" textLength="75" lengthAdjust="spacingAndGlyphs">12 Sep 05:00</text>
<text x="866.1" y="832" textLength="75" lengthAdjust="spacingAndGlyphs">18 Sep 05:00</text>
<text x="961.5" y="832" textLength="75" lengthAdjust="spacingAndGlyphs">24 Sep 05:00</text>
<text x="1057.5" y="832" textLength="75" lengthAdjust="spacingAndGlyphs">30 Sep 05:00</text>
<text x="1153.5" y="832" textLength="67.5" lengthAdjust="spacingAndGlyphs">6 Oct 05:00</text>
<text x="1250.1" y="832" textLength="74.5" lengthAdjust="spacingAndGlyphs">10 Oct 05:00</text>
<defs><filter id="bl" x="-5%" y="-20%" width="110%" height="140%"><feGaussianBlur stdDeviation="0.7"/></filter><filter id="bl2" x="-5%" y="-20%" width="110%" height="140%"><feGaussianBlur stdDeviation="1.1"/></filter><filter id="bl3" x="-5%" y="-20%" width="110%" height="140%"><feGaussianBlur stdDeviation="0.45"/></filter></defs>
<g style="font-family:'Liberation Sans',sans-serif">
<g fill="none" stroke="#FFDBC4" stroke-width="5.4"><path stroke-linecap="round" d="M53.70 622.0H72.31A9.85 10.5 0 1 0 69.87 627.63M99.60 613.57A11.3 10.5 0 1 0 99.60 627.63M245.50 622.0H264.51A10.05 10.5 0 1 0 262.02 627.63M289.3 613.2C287.5 610.6 284.5 610.1 281.2 610.1C276 610.1 273.2 612.6 273.2 615.6C273.2 619 276.5 620 281 620.8C286 621.7 289.6 622.8 289.6 626.4C289.6 629.6 286.2 631.1 281.4 631.1C277 631.1 273.9 629.8 272.3 627"/><path d="M106.60 620.6A11.25 10.5 0 1 1 129.10 620.6A11.25 10.5 0 1 1 106.60 620.6zM164.40 620.6A11.3 10.5 0 1 1 187.00 620.6A11.3 10.5 0 1 1 164.40 620.6zM137.9 633.8V607.4M137.9 619.3000000000001A9.2 9.2 0 0 1 156.3 619.3000000000001V633.8M196.1 633.8V607.4M196.1 617.82A7.72 7.72 0 0 1 211.55 617.82V633.8M211.55 617.82A7.72 7.72 0 0 1 227 617.82V633.8M235.8 633.8V607.5"/><circle cx="235.8" cy="602.4" r="2.8" fill="#FFDBC4" stroke="none"/></g>
<g fill="none" filter="url(#bl)"><path d="M323.96 613.14A11.3 11.3 0 1 0 323.96 627.66M329.7 620.4A11.5 11.5 0 1 1 352.7 620.4A11.5 11.5 0 1 1 329.7 620.4zM357.9 632.6V608.6M357.9 617.2A7.6 7.6 0 0 1 373.1 617.2V632.6M373.1 617.2A7.6 7.6 0 0 1 388.3 617.2V632.6" stroke="#D2D2D2" stroke-width="3" transform="translate(0.6,0.6)"/><rect x="298.1" y="628.2" width="4" height="4.4" fill="#D2D2D2"/></g><g fill="none"><path d="M323.96 613.14A11.3 11.3 0 1 0 323.96 627.66M329.7 620.4A11.5 11.5 0 1 1 352.7 620.4A11.5 11.5 0 1 1 329.7 620.4zM357.9 632.6V608.6M357.9 617.2A7.6 7.6 0 0 1 373.1 617.2V632.6M373.1 617.2A7.6 7.6 0 0 1 388.3 617.2V632.6" stroke="#E6E6E6" stroke-width="1.8"/><rect x="297.8" y="628" width="3.4" height="3.8" fill="#DDD"/></g>
<text x="88.5" y="672.5" style="font-family:'Liberation Serif',serif;font-size:44px;letter-spacing:-0.35px;fill:#C4C4C4;stroke:#C4C4C4;stroke-width:0.8px" filter="url(#bl2)" transform="translate(1.8,1.8)">F<tspan style="fill:none;stroke:none">x</tspan>NewsToday</text>
<text x="88.5" y="672.5" style="font-family:'Liberation Serif',serif;font-size:44px;letter-spacing:-0.35px;fill:#E7E7E7;stroke:#E7E7E7;stroke-width:0.8px" filter="url(#bl3)">F<tspan style="fill:none;stroke:none">x</tspan>NewsToday</text>
<g fill="none" filter="url(#bl3)"><path d="M112 652q6 8 10 8q4-1 10-9" stroke="#EDC9C9" stroke-width="2"/><path d="M114 670q6-6 10-10q5 4 9 11" stroke="#CDE6CD" stroke-width="2"/><path d="M115 669l8-8.5l8 9" stroke="#E9E9E9" stroke-width="3" transform="translate(0,1.5)"/></g>
</g>
</svg>
</body></html>
